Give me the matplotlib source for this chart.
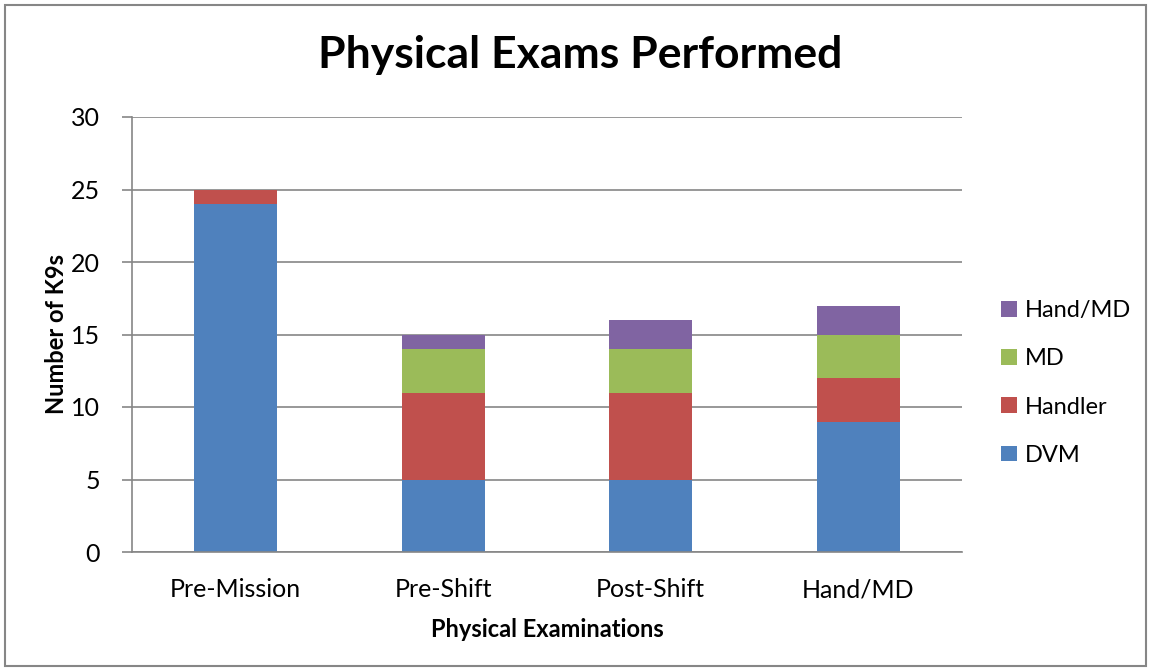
import matplotlib
matplotlib.use("Agg")
import matplotlib.pyplot as plt
from matplotlib.patches import Rectangle, Patch

plt.rcParams['font.family'] = ['Lato', 'DejaVu Sans']

categories = ["Pre-Mission", "Pre-Shift", "Post-Shift", "Hand/MD"]
series_names = ["DVM", "Handler", "MD", "Hand/MD"]
dvm = [24, 5, 5, 9]
handler = [1, 6, 6, 3]
md = [0, 3, 3, 3]
hand_md = [0, 1, 2, 2]
colors = ["#4F81BD", "#C0504D", "#9BBB59", "#8064A2"]
yticks = [0, 5, 10, 15, 20, 25, 30]

fig = plt.figure(figsize=(11.5, 6.7), dpi=100)
fig.patches.append(Rectangle((5/1150, 4/670), 1141/1150, 661/670, transform=fig.transFigure,
                             fill=False, edgecolor="#868686", linewidth=1.5))
ax = fig.add_axes([132/1150, 1 - 552/670, 830/1150, 435/670])

x = list(range(len(categories)))
bottom = [0] * len(categories)
handles = []
for name, vals, c in zip(series_names, [dvm, handler, md, hand_md], colors):
    ax.bar(x, vals, width=0.4, bottom=bottom, color=c, zorder=2, linewidth=0)
    bottom = [b + v for b, v in zip(bottom, vals)]
    handles.append(Patch(facecolor=c, edgecolor='none'))

ax.set_xlim(-0.5, 3.5)
ax.set_ylim(0, 30)
ax.set_yticks(yticks)
ax.set_yticklabels([str(t) for t in yticks], fontsize=18)
ax.set_xticks(x)
ax.set_xticklabels(categories, fontsize=18)
ax.yaxis.grid(True, color="#868686", linewidth=1.2, zorder=0)
ax.set_axisbelow(True)
for s in ["top", "right"]:
    ax.spines[s].set_visible(False)
ax.spines["left"].set_color("#868686")
ax.spines["bottom"].set_color("#868686")
ax.spines["left"].set_linewidth(1.2)
ax.spines["bottom"].set_linewidth(1.2)
ax.tick_params(axis='y', length=7, color="#868686", width=1.2, pad=16)
ax.tick_params(axis='x', length=0, pad=19)

ax.set_ylabel("Number of K9s", fontsize=17, fontweight='bold', labelpad=2)
ax.set_xlabel("Physical Examinations", fontsize=17, fontweight='bold', labelpad=12)
fig.text(580/1150, 1 - 55/670, "Physical Exams Performed", ha='center', va='center',
         fontsize=32, fontweight='bold')

leg = fig.legend(handles[::-1], series_names[::-1], loc='center left',
                 bbox_to_anchor=(980/1150, 1 - 383/670), frameon=False, fontsize=17,
                 handlelength=0.65, handleheight=0.65, labelspacing=1.15, handletextpad=0.35)

fig.savefig("out.png", dpi=100)
